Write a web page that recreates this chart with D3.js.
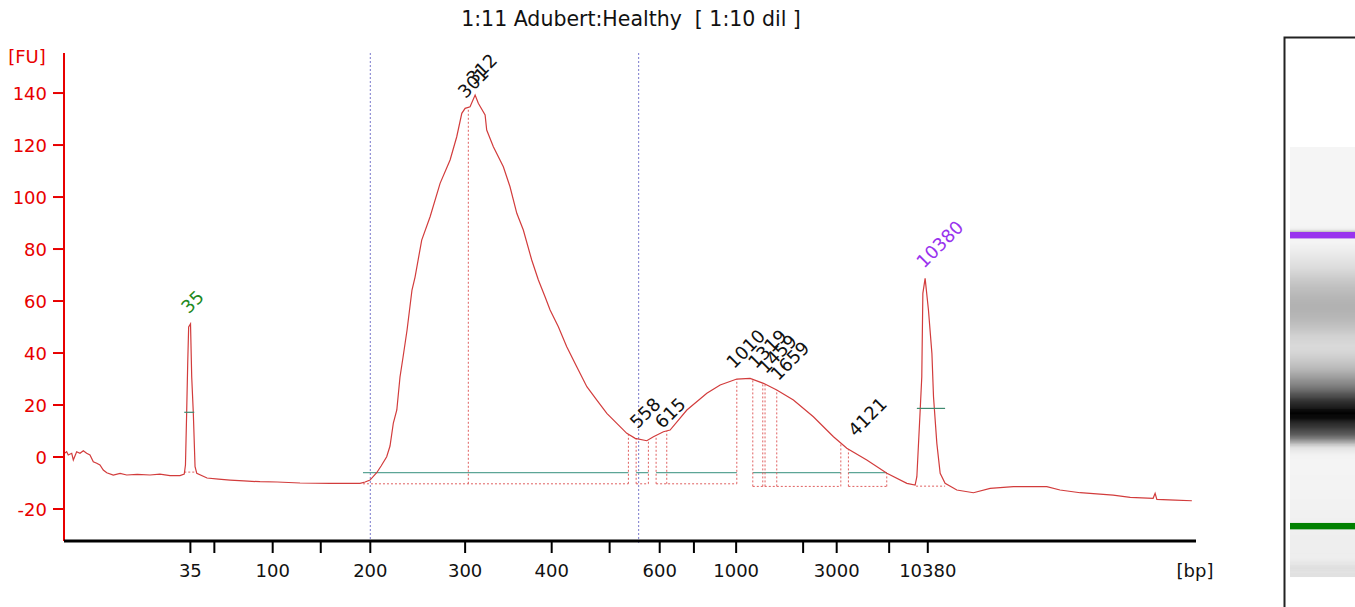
<!DOCTYPE html>
<html><head><meta charset="utf-8">
<script src="https://cdn.jsdelivr.net/npm/d3@7"></script>
<style>
body{margin:0;background:#fff;}
svg{display:block;font-family:"DejaVu Sans",sans-serif;}
</style></head><body>
<svg id="c" width="1355" height="607"></svg>
<script>
// ---------- data ----------
const title = "1:11 Adubert:Healthy  [ 1:10 dil ]";
const ladderBp = [35,50,100,150,200,300,400,500,600,700,1000,2000,3000,7000,10380];
const ladderTime = [49.49,51.29,55.67,59.28,63.00,70.12,76.62,80.97,84.73,87.30,90.47,95.50,98.02,101.96,104.86];
const ladderLabel = ["35","","100","","200","300","400","","600","","1000","","3000","","10380"];
const yTicks = [-20,0,20,40,60,80,100,120,140];

const traceTime = [40.08,40.20,40.32,40.58,40.70,40.95,41.20,41.45,41.70,41.95,42.20,42.46,42.70,42.95,43.21,43.70,44.21,44.71,45.5,46.46,47.2,47.96,48.71,
 49.03,49.12,49.21,49.29,49.36,49.50,49.59,49.71,49.84,49.97,
 50.74,51.6,52.47,53.5,54.72,56.0,57.72,59.98,61.5,62.23,62.61,62.98,63.48,63.81,64.23,64.48,64.73,64.99,65.23,65.46,65.76,65.98,66.13,66.36,66.86,67.49,68.24,68.99,69.49,69.87,70.12,70.49,70.87,71.11,71.62,71.74,72.24,72.99,73.49,74.00,74.49,75.12,75.62,76.12,76.50,77.12,77.75,78.50,79.26,80.01,80.76,81.51,82.26,82.89,83.76,84.26,85.01,85.51,86.77,88.27,89.27,90.52,91.52,92.52,93.52,94.77,96.27,97.78,98.78,100.28,101.79,103.29,103.91,
 104.04,104.29,104.41,104.49,104.66,104.91,105.17,105.29,105.54,105.79,106.16,
 107.04,108.29,109.54,111.29,113.80,114.79,116.30,118.78,120.06,121.78,121.93,122.06,123.44,124.69];
const traceFU = [1.54,2.04,0.77,1.42,-1.15,2.04,1.42,2.42,1.42,0.77,-1.81,-2.42,-3.08,-5.0,-6.04,-6.92,-6.27,-6.92,-6.7,-6.92,-6.6,-7.12,-7.12,
 -6.54,-3.08,16.9,36.2,50.0,51.2,30.8,16.9,-3.73,-6.27,
 -8.08,-8.5,-8.85,-9.2,-9.5,-9.6,-10.0,-10.12,-10.1,-10.12,-9.62,-8.85,-6.04,-3.46,0.12,4.23,13.08,18.08,30.77,38.46,48.85,58.0,64.23,69.23,83.46,92.42,105.27,114.23,123.19,132.19,134.12,134.73,139.23,136.04,131.54,125.77,119.35,111.65,103.96,93.73,87.31,75.77,68.08,61.65,56.54,50.12,42.42,34.73,27.04,21.92,16.81,12.96,9.12,7.19,6.27,7.81,9.73,10.38,18.08,24.5,27.69,30.0,30.27,28.35,25.77,21.92,15.5,7.81,3.35,-1.15,-6.27,-10.12,-10.77,
 -7.58,18.08,30.88,62.96,68.73,56.54,39.88,23.19,5.27,-6.27,-10.12,
 -12.69,-13.73,-12.04,-11.42,-11.42,-12.69,-13.73,-14.62,-15.5,-15.88,-13.96,-16.27,-16.54,-16.81];

const peakLabel = ["301","312","558","615","1010","1319","1459","1659","4121"];
const peakTime  = [70.23,70.87,83.14,85.02,90.39,92.01,92.76,93.70,99.52];
const peakFU    = [134,139.2,6.9,6.9,30.0,30.0,28.1,25.4,3.85];

const markerLabel = ["35","10380"];
const markerTime  = [49.45,104.66];
const markerFU    = [51.2,68.7];
const markerColor = ["#1f8a1f","#9933ee"];
const markerHalfStart = [49.03,104.04];
const markerHalfEnd   = [49.78,106.16];
const markerHalfFU    = [17.2,18.7];
const markerBaseStart = [49.03,103.98];
const markerBaseEnd   = [49.97,106.16];
const markerBaseFU    = [-5.8,-11.2];

const regionStart = [62.45,82.96,84.46,91.72,98.90];
const regionEnd   = [82.38,83.88,90.52,98.33,101.78];
const regionBase  = [-10.3,-10.3,-10.3,-11.3,-11.3];
const regionLevel = [-6.0,-6.0,-6.0,-6.0,-6.0];

const dropTime = [70.36,82.38,82.96,83.88,84.46,85.26,90.52,91.72,92.47,92.64,93.52,98.33,98.90,101.78];
const dropBase = [-10.3,-10.3,-10.3,-10.3,-10.3,-10.3,-10.3,-11.3,-11.3,-11.3,-11.3,-11.3,-11.3,-11.3];

const smearBp = [200,558];

// ---------- scales ----------
const svg = d3.select("#c");
const x = d3.scaleLinear().domain([40,125]).range([64,1196]);
const y = d3.scaleLinear().domain([-32.3,155.4]).range([541,53]);
const bpToTime = d3.scaleLinear().domain(ladderBp).range(ladderTime);
const trace = traceTime.map((t,i)=>({t, v: traceFU[i]}));
const bis = d3.bisector(d=>d.t).left;
function valueAt(t){
  let i = bis(trace, t);
  if (i<=0) return trace[0].v;
  if (i>=trace.length) return trace[trace.length-1].v;
  const a = trace[i-1], b = trace[i];
  return a.v + (b.v-a.v)*(t-a.t)/(b.t-a.t);
}
const RED = "#e80000";
const FS = 18;

// title
svg.append("text").attr("x",631).attr("y",26).attr("text-anchor","middle")
  .attr("font-size",20.5).attr("fill","#111").attr("xml:space","preserve").text(title);

// blue smear region lines
svg.selectAll(".smear").data(smearBp).enter().append("line")
  .attr("x1",d=>x(bpToTime(d))).attr("x2",d=>x(bpToTime(d)))
  .attr("y1",53).attr("y2",545)
  .attr("stroke","#7a7acc").attr("stroke-width",1).attr("stroke-dasharray","2,2");

// region green lines
const regions = regionStart.map((s,i)=>({s, e: regionEnd[i], b: regionBase[i], l: regionLevel[i]}));
svg.selectAll(".rg").data(regions).enter().append("line")
  .attr("x1",d=>x(d.s)).attr("x2",d=>x(d.e)).attr("y1",d=>y(d.l)).attr("y2",d=>y(d.l))
  .attr("stroke","#5da596").attr("stroke-width",1.3);
// region dotted baselines
svg.selectAll(".rb").data(regions).enter().append("line")
  .attr("x1",d=>x(d.s)).attr("x2",d=>x(d.e)).attr("y1",d=>y(d.b)).attr("y2",d=>y(d.b))
  .attr("stroke","#e06060").attr("stroke-width",1).attr("stroke-dasharray","2,2");
// drop lines
const drops = dropTime.map((t,i)=>({t, b: dropBase[i]}));
svg.selectAll(".dl").data(drops).enter().append("line")
  .attr("x1",d=>x(d.t)).attr("x2",d=>x(d.t)).attr("y1",d=>y(d.b)).attr("y2",d=>y(valueAt(d.t)))
  .attr("stroke","#e06060").attr("stroke-width",1).attr("stroke-dasharray","2,2");

// marker helpers
const markers = markerLabel.map((l,i)=>({l, t: markerTime[i], v: markerFU[i], c: markerColor[i],
  hs: markerHalfStart[i], he: markerHalfEnd[i], hv: markerHalfFU[i],
  bs: markerBaseStart[i], be: markerBaseEnd[i], bv: markerBaseFU[i]}));
svg.selectAll(".mb").data(markers).enter().append("line")
  .attr("x1",d=>x(d.bs)).attr("x2",d=>x(d.be)).attr("y1",d=>y(d.bv)).attr("y2",d=>y(d.bv))
  .attr("stroke","#e06060").attr("stroke-width",1).attr("stroke-dasharray","2,2");

// trace
svg.append("path").datum(trace)
  .attr("d", d3.line().x(d=>x(d.t)).y(d=>y(d.v)))
  .attr("fill","none").attr("stroke","#d23c3c").attr("stroke-width",1.2);

svg.selectAll(".mh").data(markers).enter().append("line")
  .attr("x1",d=>x(d.hs)).attr("x2",d=>x(d.he)).attr("y1",d=>y(d.hv)).attr("y2",d=>y(d.hv))
  .attr("stroke","#3f8a70").attr("stroke-width",1.2);

// peak labels
const LX = -1, LY = -9.5;
const peaks = peakLabel.map((l,i)=>({l, t: peakTime[i], v: peakFU[i]}));
svg.selectAll(".pl").data(peaks).enter().append("text")
  .attr("transform",d=>`translate(${x(d.t)+LX},${y(d.v)+LY}) rotate(-45)`)
  .attr("font-size",FS).attr("fill","#111").text(d=>d.l);
svg.selectAll(".ml").data(markers).enter().append("text")
  .attr("transform",d=>`translate(${x(d.t)+LX},${y(d.v)+LY}) rotate(-45)`)
  .attr("font-size",FS).attr("fill",d=>d.c).text(d=>d.l);

// y axis
const gy = svg.append("g");
gy.append("line").attr("x1",64).attr("x2",64).attr("y1",53).attr("y2",541).attr("stroke",RED).attr("stroke-width",2);
gy.selectAll(".yt").data(yTicks).enter().append("line")
  .attr("x1",53).attr("x2",64).attr("y1",d=>y(d)).attr("y2",d=>y(d)).attr("stroke",RED).attr("stroke-width",2);
gy.selectAll(".yl").data(yTicks).enter().append("text")
  .attr("x",47).attr("y",d=>y(d)).attr("dy","0.36em").attr("text-anchor","end")
  .attr("font-size",FS).attr("fill",RED).text(d=>d);
gy.append("text").attr("x",27).attr("y",57).attr("dy","0.36em").attr("text-anchor","middle")
  .attr("font-size",FS).attr("fill",RED).text("[FU]");

// x axis
const gx = svg.append("g");
gx.append("line").attr("x1",64).attr("x2",1196).attr("y1",541).attr("y2",541).attr("stroke","#000").attr("stroke-width",3);
gx.selectAll(".xt").data(ladderTime).enter().append("line")
  .attr("x1",d=>x(d)).attr("x2",d=>x(d)).attr("y1",541).attr("y2",553).attr("stroke","#000").attr("stroke-width",2);
gx.selectAll(".xl").data(ladderTime).enter().append("text")
  .attr("x",d=>x(d)).attr("y",571).attr("dy","0.36em").attr("text-anchor","middle")
  .attr("font-size",FS).attr("fill","#111").text((d,i)=>ladderLabel[i]);
gx.append("text").attr("x",1195).attr("y",571).attr("dy","0.36em").attr("text-anchor","middle")
  .attr("font-size",FS).attr("fill","#111").text("[bp]");

// gel lane
const gelY = d3.scaleLinear().domain([39.8,121.4]).range([577,147]);
const gray = d3.scaleLinear().domain([-11,140]).range(["#f5f5f5","#000000"]).clamp(true);
svg.append("rect").attr("x",1284.5).attr("y",37.5).attr("width",100).attr("height",600)
  .attr("fill","#fff").attr("stroke","#222").attr("stroke-width",2);
const rows = d3.range(147,577);
svg.append("g").selectAll("rect").data(rows).enter().append("rect")
  .attr("x",1290).attr("width",70).attr("y",d=>d).attr("height",1.05)
  .attr("fill",d=>gray(valueAt(gelY.invert(d+0.5))));
svg.selectAll(".band").data(markers).enter().append("rect")
  .attr("x",1290).attr("width",70).attr("y",d=>gelY(d.t)-3.2).attr("height",6.4)
  .attr("fill",d=>d.c==="#1f8a1f"?"#008000":"#9933ee");
</script>
</body></html>
